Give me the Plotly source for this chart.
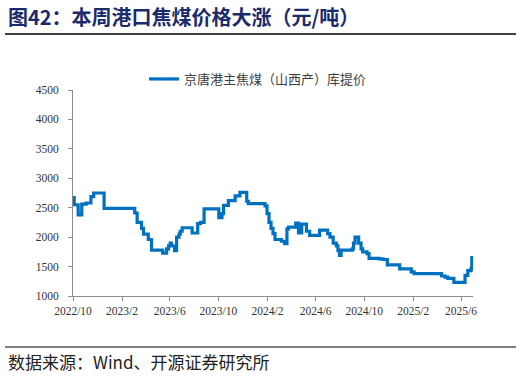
import plotly.graph_objects as go

# Data: change points of the stepwise price series (元/吨)
dates = [
    "2022-10-01", "2022-10-04", "2022-10-14", "2022-10-23", "2022-11-03", "2022-11-15",
    "2022-11-22", "2022-12-18", "2023-03-05", "2023-03-11", "2023-03-22", "2023-03-27",
    "2023-04-08", "2023-04-16", "2023-05-14", "2023-05-24", "2023-05-29", "2023-06-02",
    "2023-06-05", "2023-06-13", "2023-06-18", "2023-06-24", "2023-06-27", "2023-07-02",
    "2023-07-27", "2023-08-10", "2023-08-17", "2023-08-26", "2023-10-02", "2023-10-10",
    "2023-10-14", "2023-10-26", "2023-11-12", "2023-11-24", "2023-12-11", "2023-12-15",
    "2024-01-26", "2024-01-31", "2024-02-05", "2024-02-10", "2024-02-15", "2024-02-20",
    "2024-03-07", "2024-03-15", "2024-03-21", "2024-03-25", "2024-04-12", "2024-04-19",
    "2024-04-27", "2024-05-09", "2024-05-17", "2024-06-11", "2024-07-01", "2024-07-07",
    "2024-07-15", "2024-07-23", "2024-07-27", "2024-07-31", "2024-08-04", "2024-09-01",
    "2024-09-04", "2024-09-08", "2024-09-17", "2024-09-23", "2024-09-27", "2024-10-08",
    "2024-10-13", "2024-11-07", "2024-11-17", "2024-11-28", "2024-12-29", "2025-01-27",
    "2025-02-03", "2025-04-13", "2025-04-22", "2025-04-29", "2025-05-14", "2025-06-11",
    "2025-06-18", "2025-06-26", "2025-06-28",
]
prices = [
    2670, 2550, 2380, 2560, 2580, 2690,
    2750, 2490, 2410, 2250, 2150, 2050,
    1960, 1780, 1730, 1800, 1850, 1900,
    1850, 1770, 2000, 2050, 2100, 2160,
    2070, 2230, 2250, 2480, 2330, 2400,
    2540, 2620, 2700, 2760, 2610, 2570,
    2530, 2400, 2250, 2150, 2060, 1960,
    1930, 1890, 2140, 2170, 2240, 2070,
    2220, 2100, 2030, 2120, 2060, 2000,
    1900, 1850, 1770, 1690, 1780, 1800,
    1900, 2000, 1900, 1800, 1750, 1720,
    1640, 1630, 1620, 1530, 1460, 1410,
    1380, 1340, 1320, 1300, 1230, 1350,
    1430, 1460, 1680,
]
series_name = "京唐港主焦煤（山西产）库提价"
title_text = "图42：本周港口焦煤价格大涨（元/吨）"
source_text = "数据来源：Wind、开源证券研究所"
y_ticks = [1000, 1500, 2000, 2500, 3000, 3500, 4000, 4500]

W, H = 522, 377
ML, MR, MT, MB = 73, 49, 90, 81
PW, PH = W - ML - MR, H - MT - MB

def px_x(px):
    return (px - ML) / PW

def px_y(py):
    return (H - MB - py) / PH

fig = go.Figure()
fig.add_trace(go.Scatter(
    x=dates, y=prices, mode="lines", name=series_name,
    line=dict(color="#0070C0", width=3.2, shape="hv"),
    showlegend=True,
))

axis_color = "#8c8c8c"
tick_font = dict(family="Liberation Serif, Times New Roman, serif", size=11.5, color="#333333")

fig.update_layout(
    width=W, height=H,
    margin=dict(l=ML, r=MR, t=MT, b=MB),
    paper_bgcolor="white", plot_bgcolor="white",
    showlegend=True,
    legend=dict(
        orientation="h", x=px_x(144), y=px_y(79), xanchor="left", yanchor="middle",
        font=dict(family="Noto Sans CJK SC", size=13, color="#404040"),
        itemwidth=30, bgcolor="rgba(0,0,0,0)",
    ),
    xaxis=dict(
        type="date", range=["2022-10-01", "2025-07-01"],
        tick0="2022-10-01", dtick="M4", tickformat="%Y/%-m",
        showline=True, linecolor=axis_color, linewidth=1,
        ticks="outside", ticklen=4, tickcolor=axis_color,
        showgrid=False, zeroline=False, tickfont=tick_font,
    ),
    yaxis=dict(
        range=[1000, 4500], tickvals=y_ticks,
        showline=True, linecolor=axis_color, linewidth=1,
        ticks="outside", ticklen=4, tickcolor=axis_color,
        showgrid=False, zeroline=False, tickfont=tick_font,
        ticklabelstandoff=7,
    ),
    annotations=[
        dict(text="<b>" + title_text + "</b>", xref="paper", yref="paper",
             x=px_x(6), y=px_y(17), xanchor="left", yanchor="middle", showarrow=False,
             font=dict(family="Noto Sans CJK SC", size=20, color="#1B2A6B")),
        dict(text=source_text, xref="paper", yref="paper",
             x=px_x(6), y=px_y(361), xanchor="left", yanchor="middle", showarrow=False,
             font=dict(family="Noto Sans CJK SC", size=17, color="#222222")),
    ],
    shapes=[
        dict(type="line", xref="paper", yref="paper", x0=px_x(5), x1=px_x(516),
             y0=px_y(34), y1=px_y(34), line=dict(color="black", width=1.5)),
        dict(type="line", xref="paper", yref="paper", x0=px_x(5), x1=px_x(516),
             y0=px_y(347), y1=px_y(347), line=dict(color="black", width=1.2)),
    ],
)

fig.write_html(
    "out.html",
    config={"displayModeBar": False},
    post_script="document.body.style.margin='0';document.body.style.overflow='hidden';",
)
